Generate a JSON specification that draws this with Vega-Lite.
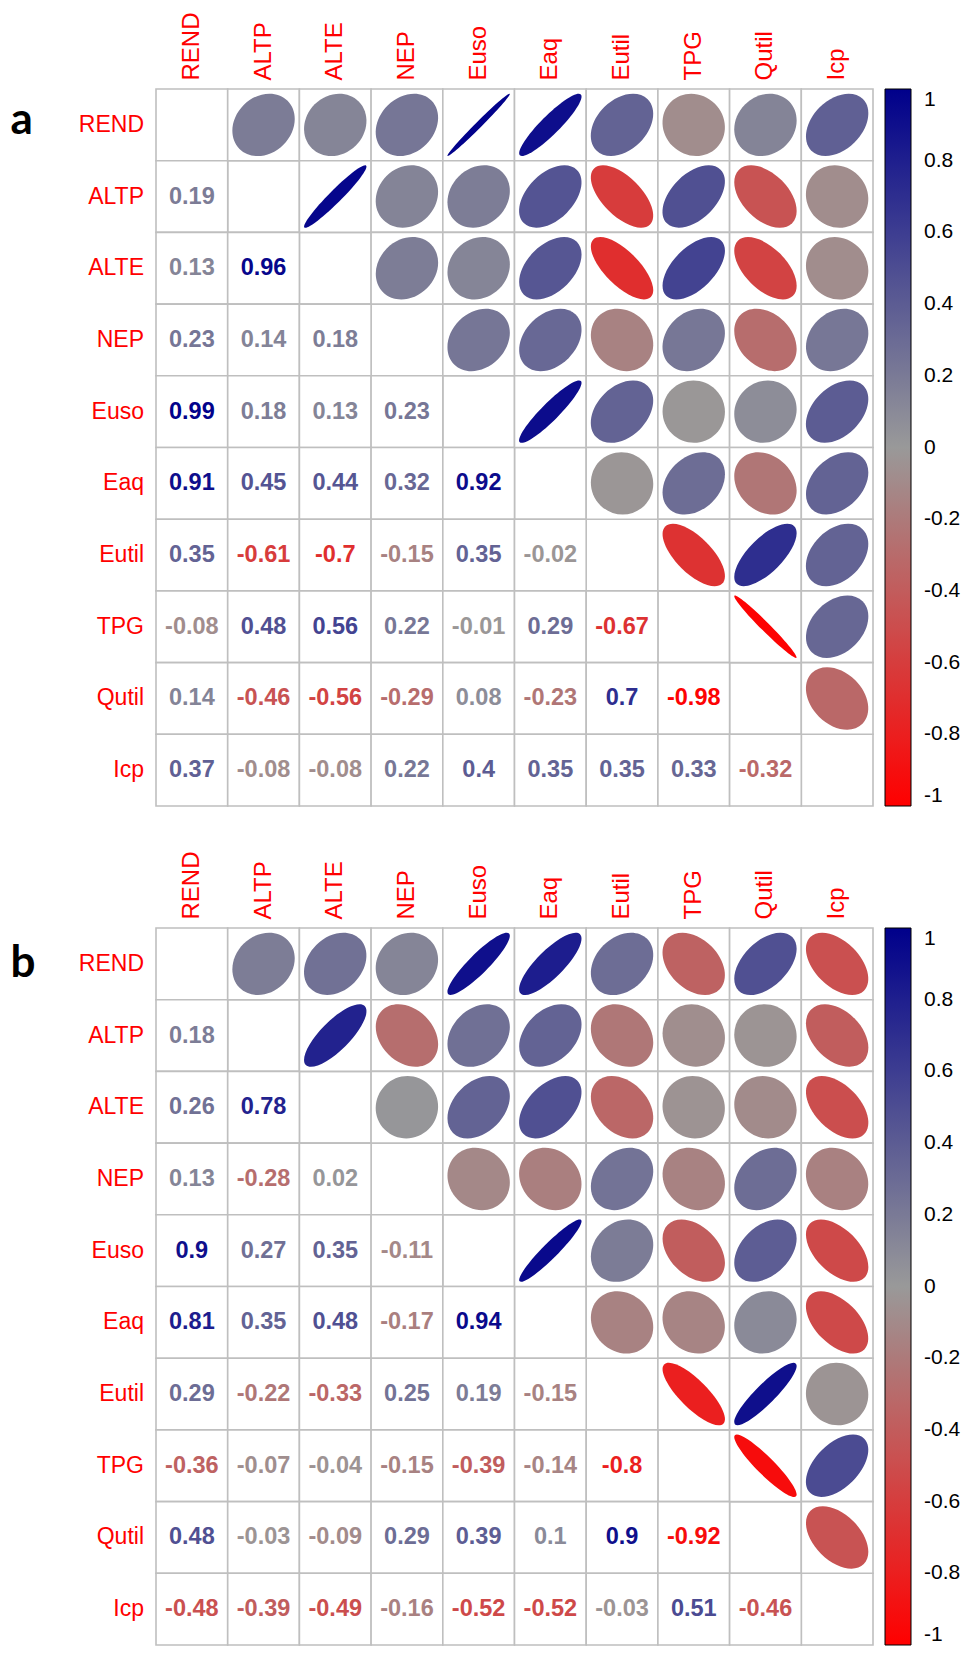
{
"$schema": "https://vega.github.io/schema/vega-lite/v6.json",
"padding": {"left": 10, "top": 11, "right": 0, "bottom": 0},
"background": "white",
"config": {
  "view": {"stroke": null},
  "font": "Liberation Sans",
  "concat": {"spacing": 43},
  "axis": {"ticks": false, "domain": false, "grid": false, "labelColor": "#FF0000", "labelFont": "Liberation Sans"},
  "legend": {"gradientLength": 717, "gradientThickness": 26, "gradientStrokeColor": "black", "gradientStrokeWidth": 1, "labelFontSize": 21, "labelFont": "Liberation Sans", "labelColor": "black", "labelOffset": 13, "labelBaseline": "middle", "offset": 12, "labelOverlap": false, "direction": "vertical", "orient": "right"}
},
"resolve": {"scale": {"color": "independent", "shape": "independent", "angle": "independent"}, "legend": {"color": "independent"}},
"vconcat": [
{
  "width": 717, "height": 717,
  "data": {"values": [
    {"row":"REND","col":"REND","p":"D"},{"row":"ALTP","col":"ALTP","p":"D"},{"row":"ALTE","col":"ALTE","p":"D"},{"row":"NEP","col":"NEP","p":"D"},{"row":"Euso","col":"Euso","p":"D"},{"row":"Eaq","col":"Eaq","p":"D"},{"row":"Eutil","col":"Eutil","p":"D"},{"row":"TPG","col":"TPG","p":"D"},{"row":"Qutil","col":"Qutil","p":"D"},{"row":"Icp","col":"Icp","p":"D"},
    {"row":"ALTP","col":"REND","r":0.19,"p":"L"},{"row":"REND","col":"ALTP","r":0.19,"p":"U"},
    {"row":"ALTE","col":"REND","r":0.13,"p":"L"},{"row":"REND","col":"ALTE","r":0.13,"p":"U"},
    {"row":"ALTE","col":"ALTP","r":0.96,"p":"L"},{"row":"ALTP","col":"ALTE","r":0.96,"p":"U"},
    {"row":"NEP","col":"REND","r":0.23,"p":"L"},{"row":"REND","col":"NEP","r":0.23,"p":"U"},
    {"row":"NEP","col":"ALTP","r":0.14,"p":"L"},{"row":"ALTP","col":"NEP","r":0.14,"p":"U"},
    {"row":"NEP","col":"ALTE","r":0.18,"p":"L"},{"row":"ALTE","col":"NEP","r":0.18,"p":"U"},
    {"row":"Euso","col":"REND","r":0.99,"p":"L"},{"row":"REND","col":"Euso","r":0.99,"p":"U"},
    {"row":"Euso","col":"ALTP","r":0.18,"p":"L"},{"row":"ALTP","col":"Euso","r":0.18,"p":"U"},
    {"row":"Euso","col":"ALTE","r":0.13,"p":"L"},{"row":"ALTE","col":"Euso","r":0.13,"p":"U"},
    {"row":"Euso","col":"NEP","r":0.23,"p":"L"},{"row":"NEP","col":"Euso","r":0.23,"p":"U"},
    {"row":"Eaq","col":"REND","r":0.91,"p":"L"},{"row":"REND","col":"Eaq","r":0.91,"p":"U"},
    {"row":"Eaq","col":"ALTP","r":0.45,"p":"L"},{"row":"ALTP","col":"Eaq","r":0.45,"p":"U"},
    {"row":"Eaq","col":"ALTE","r":0.44,"p":"L"},{"row":"ALTE","col":"Eaq","r":0.44,"p":"U"},
    {"row":"Eaq","col":"NEP","r":0.32,"p":"L"},{"row":"NEP","col":"Eaq","r":0.32,"p":"U"},
    {"row":"Eaq","col":"Euso","r":0.92,"p":"L"},{"row":"Euso","col":"Eaq","r":0.92,"p":"U"},
    {"row":"Eutil","col":"REND","r":0.35,"p":"L"},{"row":"REND","col":"Eutil","r":0.35,"p":"U"},
    {"row":"Eutil","col":"ALTP","r":-0.61,"p":"L"},{"row":"ALTP","col":"Eutil","r":-0.61,"p":"U"},
    {"row":"Eutil","col":"ALTE","r":-0.7,"p":"L"},{"row":"ALTE","col":"Eutil","r":-0.7,"p":"U"},
    {"row":"Eutil","col":"NEP","r":-0.15,"p":"L"},{"row":"NEP","col":"Eutil","r":-0.15,"p":"U"},
    {"row":"Eutil","col":"Euso","r":0.35,"p":"L"},{"row":"Euso","col":"Eutil","r":0.35,"p":"U"},
    {"row":"Eutil","col":"Eaq","r":-0.02,"p":"L"},{"row":"Eaq","col":"Eutil","r":-0.02,"p":"U"},
    {"row":"TPG","col":"REND","r":-0.08,"p":"L"},{"row":"REND","col":"TPG","r":-0.08,"p":"U"},
    {"row":"TPG","col":"ALTP","r":0.48,"p":"L"},{"row":"ALTP","col":"TPG","r":0.48,"p":"U"},
    {"row":"TPG","col":"ALTE","r":0.56,"p":"L"},{"row":"ALTE","col":"TPG","r":0.56,"p":"U"},
    {"row":"TPG","col":"NEP","r":0.22,"p":"L"},{"row":"NEP","col":"TPG","r":0.22,"p":"U"},
    {"row":"TPG","col":"Euso","r":-0.01,"p":"L"},{"row":"Euso","col":"TPG","r":-0.01,"p":"U"},
    {"row":"TPG","col":"Eaq","r":0.29,"p":"L"},{"row":"Eaq","col":"TPG","r":0.29,"p":"U"},
    {"row":"TPG","col":"Eutil","r":-0.67,"p":"L"},{"row":"Eutil","col":"TPG","r":-0.67,"p":"U"},
    {"row":"Qutil","col":"REND","r":0.14,"p":"L"},{"row":"REND","col":"Qutil","r":0.14,"p":"U"},
    {"row":"Qutil","col":"ALTP","r":-0.46,"p":"L"},{"row":"ALTP","col":"Qutil","r":-0.46,"p":"U"},
    {"row":"Qutil","col":"ALTE","r":-0.56,"p":"L"},{"row":"ALTE","col":"Qutil","r":-0.56,"p":"U"},
    {"row":"Qutil","col":"NEP","r":-0.29,"p":"L"},{"row":"NEP","col":"Qutil","r":-0.29,"p":"U"},
    {"row":"Qutil","col":"Euso","r":0.08,"p":"L"},{"row":"Euso","col":"Qutil","r":0.08,"p":"U"},
    {"row":"Qutil","col":"Eaq","r":-0.23,"p":"L"},{"row":"Eaq","col":"Qutil","r":-0.23,"p":"U"},
    {"row":"Qutil","col":"Eutil","r":0.7,"p":"L"},{"row":"Eutil","col":"Qutil","r":0.7,"p":"U"},
    {"row":"Qutil","col":"TPG","r":-0.98,"p":"L"},{"row":"TPG","col":"Qutil","r":-0.98,"p":"U"},
    {"row":"Icp","col":"REND","r":0.37,"p":"L"},{"row":"REND","col":"Icp","r":0.37,"p":"U"},
    {"row":"Icp","col":"ALTP","r":-0.08,"p":"L"},{"row":"ALTP","col":"Icp","r":-0.08,"p":"U"},
    {"row":"Icp","col":"ALTE","r":-0.08,"p":"L"},{"row":"ALTE","col":"Icp","r":-0.08,"p":"U"},
    {"row":"Icp","col":"NEP","r":0.22,"p":"L"},{"row":"NEP","col":"Icp","r":0.22,"p":"U"},
    {"row":"Icp","col":"Euso","r":0.4,"p":"L"},{"row":"Euso","col":"Icp","r":0.4,"p":"U"},
    {"row":"Icp","col":"Eaq","r":0.35,"p":"L"},{"row":"Eaq","col":"Icp","r":0.35,"p":"U"},
    {"row":"Icp","col":"Eutil","r":0.35,"p":"L"},{"row":"Eutil","col":"Icp","r":0.35,"p":"U"},
    {"row":"Icp","col":"TPG","r":0.33,"p":"L"},{"row":"TPG","col":"Icp","r":0.33,"p":"U"},
    {"row":"Icp","col":"Qutil","r":-0.32,"p":"L"},{"row":"Qutil","col":"Icp","r":-0.32,"p":"U"}
  ]},
  "encoding": {
    "x": {"field": "col", "type": "nominal", "sort": ["REND","ALTP","ALTE","NEP","Euso","Eaq","Eutil","TPG","Qutil","Icp"], "scale": {"type": "band", "paddingInner": 0, "paddingOuter": 0},
          "axis": {"orient": "top", "title": null, "labelAngle": -90, "labelAlign": "left", "labelBaseline": "middle", "labelFontSize": 24, "labelPadding": 9}},
    "y": {"field": "row", "type": "nominal", "sort": ["REND","ALTP","ALTE","NEP","Euso","Eaq","Eutil","TPG","Qutil","Icp"], "scale": {"type": "band", "paddingInner": 0, "paddingOuter": 0},
          "axis": {"title": "a", "titleAngle": 0, "titleX": -146, "titleY": 31, "titleAlign": "left", "titleBaseline": "middle", "titleFontSize": 44, "titleFont": "Lato", "titleFontWeight": "bold", "titleColor": "black", "labelFontSize": 23, "labelPadding": 12.5}}
  },
  "layer": [
    {"mark": {"type": "rect", "fill": "white", "stroke": "#BFBFBF", "strokeWidth": 1.6}},
    {"transform": [{"filter": "datum.p === 'U'"}],
     "mark": {"type": "point", "filled": true, "size": 5141, "opacity": 1, "strokeWidth": 0},
     "encoding": {
       "shape": {"field": "r", "type": "nominal", "legend": null, "scale": {
         "domain": [-0.01,-0.02,-0.08,0.08,0.13,0.14,-0.15,0.18,0.19,0.22,0.23,-0.23,0.29,-0.29,0.32,-0.32,0.33,0.35,0.37,0.4,0.44,0.45,-0.46,0.48,0.56,-0.56,-0.61,-0.67,0.7,-0.7,0.91,0.92,0.96,-0.98,0.99],
         "range": [
"M0.874 0C0.874 0.478 0.483 0.866 0 0.866C-0.483 0.866 -0.874 0.478 -0.874 0C-0.874 -0.478 -0.483 -0.866 0 -0.866C0.483 -0.866 0.874 -0.478 0.874 0Z",
"M0.879 0C0.879 0.476 0.485 0.861 0 0.861C-0.485 0.861 -0.879 0.476 -0.879 0C-0.879 -0.476 -0.485 -0.861 0 -0.861C0.485 -0.861 0.879 -0.476 0.879 0Z",
"M0.904 0C0.904 0.461 0.499 0.835 0 0.835C-0.499 0.835 -0.904 0.461 -0.904 0C-0.904 -0.461 -0.499 -0.835 0 -0.835C0.499 -0.835 0.904 -0.461 0.904 0Z",
"M0.904 0C0.904 0.461 0.499 0.835 0 0.835C-0.499 0.835 -0.904 0.461 -0.904 0C-0.904 -0.461 -0.499 -0.835 0 -0.835C0.499 -0.835 0.904 -0.461 0.904 0Z",
"M0.925 0C0.925 0.448 0.511 0.812 0 0.812C-0.511 0.812 -0.925 0.448 -0.925 0C-0.925 -0.448 -0.511 -0.812 0 -0.812C0.511 -0.812 0.925 -0.448 0.925 0Z",
"M0.929 0C0.929 0.446 0.513 0.807 0 0.807C-0.513 0.807 -0.929 0.446 -0.929 0C-0.929 -0.446 -0.513 -0.807 0 -0.807C0.513 -0.807 0.929 -0.446 0.929 0Z",
"M0.933 0C0.933 0.443 0.515 0.802 0 0.802C-0.515 0.802 -0.933 0.443 -0.933 0C-0.933 -0.443 -0.515 -0.802 0 -0.802C0.515 -0.802 0.933 -0.443 0.933 0Z",
"M0.945 0C0.945 0.435 0.522 0.788 0 0.788C-0.522 0.788 -0.945 0.435 -0.945 0C-0.945 -0.435 -0.522 -0.788 0 -0.788C0.522 -0.788 0.945 -0.435 0.945 0Z",
"M0.949 0C0.949 0.433 0.524 0.783 0 0.783C-0.524 0.783 -0.949 0.433 -0.949 0C-0.949 -0.433 -0.524 -0.783 0 -0.783C0.524 -0.783 0.949 -0.433 0.949 0Z",
"M0.961 0C0.961 0.424 0.531 0.768 0 0.768C-0.531 0.768 -0.961 0.424 -0.961 0C-0.961 -0.424 -0.531 -0.768 0 -0.768C0.531 -0.768 0.961 -0.424 0.961 0Z",
"M0.965 0C0.965 0.422 0.533 0.763 0 0.763C-0.533 0.763 -0.965 0.422 -0.965 0C-0.965 -0.422 -0.533 -0.763 0 -0.763C0.533 -0.763 0.965 -0.422 0.965 0Z",
"M0.965 0C0.965 0.422 0.533 0.763 0 0.763C-0.533 0.763 -0.965 0.422 -0.965 0C-0.965 -0.422 -0.533 -0.763 0 -0.763C0.533 -0.763 0.965 -0.422 0.965 0Z",
"M0.988 0C0.988 0.405 0.546 0.733 0 0.733C-0.546 0.733 -0.988 0.405 -0.988 0C-0.988 -0.405 -0.546 -0.733 0 -0.733C0.546 -0.733 0.988 -0.405 0.988 0Z",
"M0.988 0C0.988 0.405 0.546 0.733 0 0.733C-0.546 0.733 -0.988 0.405 -0.988 0C-0.988 -0.405 -0.546 -0.733 0 -0.733C0.546 -0.733 0.988 -0.405 0.988 0Z",
"M1 0C1 0.396 0.552 0.717 0 0.717C-0.552 0.717 -1 0.396 -1 0C-1 -0.396 -0.552 -0.717 0 -0.717C0.552 -0.717 1 -0.396 1 0Z",
"M1 0C1 0.396 0.552 0.717 0 0.717C-0.552 0.717 -1 0.396 -1 0C-1 -0.396 -0.552 -0.717 0 -0.717C0.552 -0.717 1 -0.396 1 0Z",
"M1.003 0C1.003 0.393 0.554 0.712 0 0.712C-0.554 0.712 -1.003 0.393 -1.003 0C-1.003 -0.393 -0.554 -0.712 0 -0.712C0.554 -0.712 1.003 -0.393 1.003 0Z",
"M1.011 0C1.011 0.387 0.558 0.701 0 0.701C-0.558 0.701 -1.011 0.387 -1.011 0C-1.011 -0.387 -0.558 -0.701 0 -0.701C0.558 -0.701 1.011 -0.387 1.011 0Z",
"M1.018 0C1.018 0.381 0.562 0.691 0 0.691C-0.562 0.691 -1.018 0.381 -1.018 0C-1.018 -0.381 -0.562 -0.691 0 -0.691C0.562 -0.691 1.018 -0.381 1.018 0Z",
"M1.029 0C1.029 0.372 0.569 0.674 0 0.674C-0.569 0.674 -1.029 0.372 -1.029 0C-1.029 -0.372 -0.569 -0.674 0 -0.674C0.569 -0.674 1.029 -0.372 1.029 0Z",
"M1.044 0C1.044 0.36 0.577 0.651 0 0.651C-0.577 0.651 -1.044 0.36 -1.044 0C-1.044 -0.36 -0.577 -0.651 0 -0.651C0.577 -0.651 1.044 -0.36 1.044 0Z",
"M1.048 0C1.048 0.356 0.579 0.645 0 0.645C-0.579 0.645 -1.048 0.356 -1.048 0C-1.048 -0.356 -0.579 -0.645 0 -0.645C0.579 -0.645 1.048 -0.356 1.048 0Z",
"M1.051 0C1.051 0.353 0.581 0.639 0 0.639C-0.581 0.639 -1.051 0.353 -1.051 0C-1.051 -0.353 -0.581 -0.639 0 -0.639C0.581 -0.639 1.051 -0.353 1.051 0Z",
"M1.058 0C1.058 0.347 0.585 0.627 0 0.627C-0.585 0.627 -1.058 0.347 -1.058 0C-1.058 -0.347 -0.585 -0.627 0 -0.627C0.585 -0.627 1.058 -0.347 1.058 0Z",
"M1.087 0C1.087 0.319 0.6 0.577 0 0.577C-0.6 0.577 -1.087 0.319 -1.087 0C-1.087 -0.319 -0.6 -0.577 0 -0.577C0.6 -0.577 1.087 -0.319 1.087 0Z",
"M1.087 0C1.087 0.319 0.6 0.577 0 0.577C-0.6 0.577 -1.087 0.319 -1.087 0C-1.087 -0.319 -0.6 -0.577 0 -0.577C0.6 -0.577 1.087 -0.319 1.087 0Z",
"M1.104 0C1.104 0.3 0.61 0.543 0 0.543C-0.61 0.543 -1.104 0.3 -1.104 0C-1.104 -0.3 -0.61 -0.543 0 -0.543C0.61 -0.543 1.104 -0.3 1.104 0Z",
"M1.124 0C1.124 0.276 0.621 0.5 0 0.5C-0.621 0.5 -1.124 0.276 -1.124 0C-1.124 -0.276 -0.621 -0.5 0 -0.5C0.621 -0.5 1.124 -0.276 1.124 0Z",
"M1.134 0C1.134 0.263 0.626 0.477 0 0.477C-0.626 0.477 -1.134 0.263 -1.134 0C-1.134 -0.263 -0.626 -0.477 0 -0.477C0.626 -0.477 1.134 -0.263 1.134 0Z",
"M1.134 0C1.134 0.263 0.626 0.477 0 0.477C-0.626 0.477 -1.134 0.263 -1.134 0C-1.134 -0.263 -0.626 -0.477 0 -0.477C0.626 -0.477 1.134 -0.263 1.134 0Z",
"M1.202 0C1.202 0.144 0.664 0.261 0 0.261C-0.664 0.261 -1.202 0.144 -1.202 0C-1.202 -0.144 -0.664 -0.261 0 -0.261C0.664 -0.261 1.202 -0.144 1.202 0Z",
"M1.206 0C1.206 0.136 0.666 0.246 0 0.246C-0.666 0.246 -1.206 0.136 -1.206 0C-1.206 -0.136 -0.666 -0.246 0 -0.246C0.666 -0.246 1.206 -0.136 1.206 0Z",
"M1.218 0C1.218 0.096 0.673 0.174 0 0.174C-0.673 0.174 -1.218 0.096 -1.218 0C-1.218 -0.096 -0.673 -0.174 0 -0.174C0.673 -0.174 1.218 -0.096 1.218 0Z",
"M1.224 0C1.224 0.068 0.676 0.123 0 0.123C-0.676 0.123 -1.224 0.068 -1.224 0C-1.224 -0.068 -0.676 -0.123 0 -0.123C0.676 -0.123 1.224 -0.068 1.224 0Z",
"M1.227 0C1.227 0.048 0.678 0.087 0 0.087C-0.678 0.087 -1.227 0.048 -1.227 0C-1.227 -0.048 -0.678 -0.087 0 -0.087C0.678 -0.087 1.227 -0.048 1.227 0Z"
         ]}},
       "angle": {"field": "r", "type": "quantitative", "legend": null, "scale": {"type": "threshold", "domain": [0], "range": [45, 315]}},
       "color": {"field": "r", "type": "quantitative", "scale": {"domain": [-1, 0, 1], "range": ["#FF0000", "#999999", "#00008B"], "interpolate": "rgb"},
                 "legend": {"title": null, "values": [1,0.8,0.6,0.4,0.2,0,-0.2,-0.4,-0.6,-0.8,-1], "labelExpr": "(datum.value == 1 || datum.value == 0 ? '\u00a0\u00a0' : datum.value == -1 ? '\u00a0' : '') + datum.value", "labelFontSize": 21, "labelOffset": 13, "labelFont": "Liberation Sans", "labelBaseline": "middle", "labelColor": "black"}}
     }},
    {"transform": [{"filter": "datum.p === 'L'"}],
     "mark": {"type": "text", "fontWeight": "bold", "fontSize": 23.5, "font": "Liberation Sans"},
     "encoding": {
       "text": {"field": "r", "type": "nominal"},
       "color": {"field": "r", "type": "quantitative", "scale": {"domain": [-1, 0, 1], "range": ["#FF0000", "#999999", "#00008B"], "interpolate": "rgb"},
                 "legend": {"title": null, "values": [1,0.8,0.6,0.4,0.2,0,-0.2,-0.4,-0.6,-0.8,-1], "labelExpr": "(datum.value == 1 || datum.value == 0 ? '\u00a0\u00a0' : datum.value == -1 ? '\u00a0' : '') + datum.value", "labelFontSize": 21, "labelOffset": 13, "labelFont": "Liberation Sans", "labelBaseline": "middle", "labelColor": "black"}}
     }}
  ]
},
{
  "width": 717, "height": 717,
  "data": {"values": [
    {"row":"REND","col":"REND","p":"D"},{"row":"ALTP","col":"ALTP","p":"D"},{"row":"ALTE","col":"ALTE","p":"D"},{"row":"NEP","col":"NEP","p":"D"},{"row":"Euso","col":"Euso","p":"D"},{"row":"Eaq","col":"Eaq","p":"D"},{"row":"Eutil","col":"Eutil","p":"D"},{"row":"TPG","col":"TPG","p":"D"},{"row":"Qutil","col":"Qutil","p":"D"},{"row":"Icp","col":"Icp","p":"D"},
    {"row":"ALTP","col":"REND","r":0.18,"p":"L"},{"row":"REND","col":"ALTP","r":0.18,"p":"U"},
    {"row":"ALTE","col":"REND","r":0.26,"p":"L"},{"row":"REND","col":"ALTE","r":0.26,"p":"U"},
    {"row":"ALTE","col":"ALTP","r":0.78,"p":"L"},{"row":"ALTP","col":"ALTE","r":0.78,"p":"U"},
    {"row":"NEP","col":"REND","r":0.13,"p":"L"},{"row":"REND","col":"NEP","r":0.13,"p":"U"},
    {"row":"NEP","col":"ALTP","r":-0.28,"p":"L"},{"row":"ALTP","col":"NEP","r":-0.28,"p":"U"},
    {"row":"NEP","col":"ALTE","r":0.02,"p":"L"},{"row":"ALTE","col":"NEP","r":0.02,"p":"U"},
    {"row":"Euso","col":"REND","r":0.9,"p":"L"},{"row":"REND","col":"Euso","r":0.9,"p":"U"},
    {"row":"Euso","col":"ALTP","r":0.27,"p":"L"},{"row":"ALTP","col":"Euso","r":0.27,"p":"U"},
    {"row":"Euso","col":"ALTE","r":0.35,"p":"L"},{"row":"ALTE","col":"Euso","r":0.35,"p":"U"},
    {"row":"Euso","col":"NEP","r":-0.11,"p":"L"},{"row":"NEP","col":"Euso","r":-0.11,"p":"U"},
    {"row":"Eaq","col":"REND","r":0.81,"p":"L"},{"row":"REND","col":"Eaq","r":0.81,"p":"U"},
    {"row":"Eaq","col":"ALTP","r":0.35,"p":"L"},{"row":"ALTP","col":"Eaq","r":0.35,"p":"U"},
    {"row":"Eaq","col":"ALTE","r":0.48,"p":"L"},{"row":"ALTE","col":"Eaq","r":0.48,"p":"U"},
    {"row":"Eaq","col":"NEP","r":-0.17,"p":"L"},{"row":"NEP","col":"Eaq","r":-0.17,"p":"U"},
    {"row":"Eaq","col":"Euso","r":0.94,"p":"L"},{"row":"Euso","col":"Eaq","r":0.94,"p":"U"},
    {"row":"Eutil","col":"REND","r":0.29,"p":"L"},{"row":"REND","col":"Eutil","r":0.29,"p":"U"},
    {"row":"Eutil","col":"ALTP","r":-0.22,"p":"L"},{"row":"ALTP","col":"Eutil","r":-0.22,"p":"U"},
    {"row":"Eutil","col":"ALTE","r":-0.33,"p":"L"},{"row":"ALTE","col":"Eutil","r":-0.33,"p":"U"},
    {"row":"Eutil","col":"NEP","r":0.25,"p":"L"},{"row":"NEP","col":"Eutil","r":0.25,"p":"U"},
    {"row":"Eutil","col":"Euso","r":0.19,"p":"L"},{"row":"Euso","col":"Eutil","r":0.19,"p":"U"},
    {"row":"Eutil","col":"Eaq","r":-0.15,"p":"L"},{"row":"Eaq","col":"Eutil","r":-0.15,"p":"U"},
    {"row":"TPG","col":"REND","r":-0.36,"p":"L"},{"row":"REND","col":"TPG","r":-0.36,"p":"U"},
    {"row":"TPG","col":"ALTP","r":-0.07,"p":"L"},{"row":"ALTP","col":"TPG","r":-0.07,"p":"U"},
    {"row":"TPG","col":"ALTE","r":-0.04,"p":"L"},{"row":"ALTE","col":"TPG","r":-0.04,"p":"U"},
    {"row":"TPG","col":"NEP","r":-0.15,"p":"L"},{"row":"NEP","col":"TPG","r":-0.15,"p":"U"},
    {"row":"TPG","col":"Euso","r":-0.39,"p":"L"},{"row":"Euso","col":"TPG","r":-0.39,"p":"U"},
    {"row":"TPG","col":"Eaq","r":-0.14,"p":"L"},{"row":"Eaq","col":"TPG","r":-0.14,"p":"U"},
    {"row":"TPG","col":"Eutil","r":-0.8,"p":"L"},{"row":"Eutil","col":"TPG","r":-0.8,"p":"U"},
    {"row":"Qutil","col":"REND","r":0.48,"p":"L"},{"row":"REND","col":"Qutil","r":0.48,"p":"U"},
    {"row":"Qutil","col":"ALTP","r":-0.03,"p":"L"},{"row":"ALTP","col":"Qutil","r":-0.03,"p":"U"},
    {"row":"Qutil","col":"ALTE","r":-0.09,"p":"L"},{"row":"ALTE","col":"Qutil","r":-0.09,"p":"U"},
    {"row":"Qutil","col":"NEP","r":0.29,"p":"L"},{"row":"NEP","col":"Qutil","r":0.29,"p":"U"},
    {"row":"Qutil","col":"Euso","r":0.39,"p":"L"},{"row":"Euso","col":"Qutil","r":0.39,"p":"U"},
    {"row":"Qutil","col":"Eaq","r":0.1,"p":"L"},{"row":"Eaq","col":"Qutil","r":0.1,"p":"U"},
    {"row":"Qutil","col":"Eutil","r":0.9,"p":"L"},{"row":"Eutil","col":"Qutil","r":0.9,"p":"U"},
    {"row":"Qutil","col":"TPG","r":-0.92,"p":"L"},{"row":"TPG","col":"Qutil","r":-0.92,"p":"U"},
    {"row":"Icp","col":"REND","r":-0.48,"p":"L"},{"row":"REND","col":"Icp","r":-0.48,"p":"U"},
    {"row":"Icp","col":"ALTP","r":-0.39,"p":"L"},{"row":"ALTP","col":"Icp","r":-0.39,"p":"U"},
    {"row":"Icp","col":"ALTE","r":-0.49,"p":"L"},{"row":"ALTE","col":"Icp","r":-0.49,"p":"U"},
    {"row":"Icp","col":"NEP","r":-0.16,"p":"L"},{"row":"NEP","col":"Icp","r":-0.16,"p":"U"},
    {"row":"Icp","col":"Euso","r":-0.52,"p":"L"},{"row":"Euso","col":"Icp","r":-0.52,"p":"U"},
    {"row":"Icp","col":"Eaq","r":-0.52,"p":"L"},{"row":"Eaq","col":"Icp","r":-0.52,"p":"U"},
    {"row":"Icp","col":"Eutil","r":-0.03,"p":"L"},{"row":"Eutil","col":"Icp","r":-0.03,"p":"U"},
    {"row":"Icp","col":"TPG","r":0.51,"p":"L"},{"row":"TPG","col":"Icp","r":0.51,"p":"U"},
    {"row":"Icp","col":"Qutil","r":-0.46,"p":"L"},{"row":"Qutil","col":"Icp","r":-0.46,"p":"U"}
  ]},
  "encoding": {
    "x": {"field": "col", "type": "nominal", "sort": ["REND","ALTP","ALTE","NEP","Euso","Eaq","Eutil","TPG","Qutil","Icp"], "scale": {"type": "band", "paddingInner": 0, "paddingOuter": 0},
          "axis": {"orient": "top", "title": null, "labelAngle": -90, "labelAlign": "left", "labelBaseline": "middle", "labelFontSize": 24, "labelPadding": 9}},
    "y": {"field": "row", "type": "nominal", "sort": ["REND","ALTP","ALTE","NEP","Euso","Eaq","Eutil","TPG","Qutil","Icp"], "scale": {"type": "band", "paddingInner": 0, "paddingOuter": 0},
          "axis": {"title": "b", "titleAngle": 0, "titleX": -146, "titleY": 35, "titleAlign": "left", "titleBaseline": "middle", "titleFontSize": 44, "titleFont": "Lato", "titleFontWeight": "bold", "titleColor": "black", "labelFontSize": 23, "labelPadding": 12.5}}
  },
  "layer": [
    {"mark": {"type": "rect", "fill": "white", "stroke": "#BFBFBF", "strokeWidth": 1.6}},
    {"transform": [{"filter": "datum.p === 'U'"}],
     "mark": {"type": "point", "filled": true, "size": 5141, "opacity": 1, "strokeWidth": 0},
     "encoding": {
       "shape": {"field": "r", "type": "nominal", "legend": null, "scale": {
         "domain": [0.02,-0.03,-0.04,-0.07,-0.09,0.1,-0.11,0.13,-0.14,-0.15,-0.16,-0.17,0.18,0.19,-0.22,0.25,0.26,0.27,-0.28,0.29,-0.33,0.35,-0.36,0.39,-0.39,-0.46,0.48,-0.48,-0.49,0.51,-0.52,0.78,-0.8,0.81,0.9,-0.92,0.94],
         "range": [
"M0.879 0C0.879 0.476 0.485 0.861 0 0.861C-0.485 0.861 -0.879 0.476 -0.879 0C-0.879 -0.476 -0.485 -0.861 0 -0.861C0.485 -0.861 0.879 -0.476 0.879 0Z",
"M0.883 0C0.883 0.473 0.488 0.857 0 0.857C-0.488 0.857 -0.883 0.473 -0.883 0C-0.883 -0.473 -0.488 -0.857 0 -0.857C0.488 -0.857 0.883 -0.473 0.883 0Z",
"M0.887 0C0.887 0.471 0.49 0.852 0 0.852C-0.49 0.852 -0.887 0.471 -0.887 0C-0.887 -0.471 -0.49 -0.852 0 -0.852C0.49 -0.852 0.887 -0.471 0.887 0Z",
"M0.9 0C0.9 0.463 0.497 0.839 0 0.839C-0.497 0.839 -0.9 0.463 -0.9 0C-0.9 -0.463 -0.497 -0.839 0 -0.839C0.497 -0.839 0.9 -0.463 0.9 0Z",
"M0.908 0C0.908 0.458 0.502 0.83 0 0.83C-0.502 0.83 -0.908 0.458 -0.908 0C-0.908 -0.458 -0.502 -0.83 0 -0.83C0.502 -0.83 0.908 -0.458 0.908 0Z",
"M0.913 0C0.913 0.456 0.504 0.825 0 0.825C-0.504 0.825 -0.913 0.456 -0.913 0C-0.913 -0.456 -0.504 -0.825 0 -0.825C0.504 -0.825 0.913 -0.456 0.913 0Z",
"M0.917 0C0.917 0.453 0.506 0.821 0 0.821C-0.506 0.821 -0.917 0.453 -0.917 0C-0.917 -0.453 -0.506 -0.821 0 -0.821C0.506 -0.821 0.917 -0.453 0.917 0Z",
"M0.925 0C0.925 0.448 0.511 0.812 0 0.812C-0.511 0.812 -0.925 0.448 -0.925 0C-0.925 -0.448 -0.511 -0.812 0 -0.812C0.511 -0.812 0.925 -0.448 0.925 0Z",
"M0.929 0C0.929 0.446 0.513 0.807 0 0.807C-0.513 0.807 -0.929 0.446 -0.929 0C-0.929 -0.446 -0.513 -0.807 0 -0.807C0.513 -0.807 0.929 -0.446 0.929 0Z",
"M0.933 0C0.933 0.443 0.515 0.802 0 0.802C-0.515 0.802 -0.933 0.443 -0.933 0C-0.933 -0.443 -0.515 -0.802 0 -0.802C0.515 -0.802 0.933 -0.443 0.933 0Z",
"M0.937 0C0.937 0.44 0.518 0.797 0 0.797C-0.518 0.797 -0.937 0.44 -0.937 0C-0.937 -0.44 -0.518 -0.797 0 -0.797C0.518 -0.797 0.937 -0.44 0.937 0Z",
"M0.941 0C0.941 0.438 0.52 0.793 0 0.793C-0.52 0.793 -0.941 0.438 -0.941 0C-0.941 -0.438 -0.52 -0.793 0 -0.793C0.52 -0.793 0.941 -0.438 0.941 0Z",
"M0.945 0C0.945 0.435 0.522 0.788 0 0.788C-0.522 0.788 -0.945 0.435 -0.945 0C-0.945 -0.435 -0.522 -0.788 0 -0.788C0.522 -0.788 0.945 -0.435 0.945 0Z",
"M0.949 0C0.949 0.433 0.524 0.783 0 0.783C-0.524 0.783 -0.949 0.433 -0.949 0C-0.949 -0.433 -0.524 -0.783 0 -0.783C0.524 -0.783 0.949 -0.433 0.949 0Z",
"M0.961 0C0.961 0.424 0.531 0.768 0 0.768C-0.531 0.768 -0.961 0.424 -0.961 0C-0.961 -0.424 -0.531 -0.768 0 -0.768C0.531 -0.768 0.961 -0.424 0.961 0Z",
"M0.973 0C0.973 0.416 0.537 0.753 0 0.753C-0.537 0.753 -0.973 0.416 -0.973 0C-0.973 -0.416 -0.537 -0.753 0 -0.753C0.537 -0.753 0.973 -0.416 0.973 0Z",
"M0.977 0C0.977 0.413 0.539 0.748 0 0.748C-0.539 0.748 -0.977 0.413 -0.977 0C-0.977 -0.413 -0.539 -0.748 0 -0.748C0.539 -0.748 0.977 -0.413 0.977 0Z",
"M0.98 0C0.98 0.411 0.542 0.743 0 0.743C-0.542 0.743 -0.98 0.411 -0.98 0C-0.98 -0.411 -0.542 -0.743 0 -0.743C0.542 -0.743 0.98 -0.411 0.98 0Z",
"M0.984 0C0.984 0.408 0.544 0.738 0 0.738C-0.544 0.738 -0.984 0.408 -0.984 0C-0.984 -0.408 -0.544 -0.738 0 -0.738C0.544 -0.738 0.984 -0.408 0.984 0Z",
"M0.988 0C0.988 0.405 0.546 0.733 0 0.733C-0.546 0.733 -0.988 0.405 -0.988 0C-0.988 -0.405 -0.546 -0.733 0 -0.733C0.546 -0.733 0.988 -0.405 0.988 0Z",
"M1.003 0C1.003 0.393 0.554 0.712 0 0.712C-0.554 0.712 -1.003 0.393 -1.003 0C-1.003 -0.393 -0.554 -0.712 0 -0.712C0.554 -0.712 1.003 -0.393 1.003 0Z",
"M1.011 0C1.011 0.387 0.558 0.701 0 0.701C-0.558 0.701 -1.011 0.387 -1.011 0C-1.011 -0.387 -0.558 -0.701 0 -0.701C0.558 -0.701 1.011 -0.387 1.011 0Z",
"M1.015 0C1.015 0.384 0.56 0.696 0 0.696C-0.56 0.696 -1.015 0.384 -1.015 0C-1.015 -0.384 -0.56 -0.696 0 -0.696C0.56 -0.696 1.015 -0.384 1.015 0Z",
"M1.026 0C1.026 0.375 0.567 0.679 0 0.679C-0.567 0.679 -1.026 0.375 -1.026 0C-1.026 -0.375 -0.567 -0.679 0 -0.679C0.567 -0.679 1.026 -0.375 1.026 0Z",
"M1.026 0C1.026 0.375 0.567 0.679 0 0.679C-0.567 0.679 -1.026 0.375 -1.026 0C-1.026 -0.375 -0.567 -0.679 0 -0.679C0.567 -0.679 1.026 -0.375 1.026 0Z",
"M1.051 0C1.051 0.353 0.581 0.639 0 0.639C-0.581 0.639 -1.051 0.353 -1.051 0C-1.051 -0.353 -0.581 -0.639 0 -0.639C0.581 -0.639 1.051 -0.353 1.051 0Z",
"M1.058 0C1.058 0.347 0.585 0.627 0 0.627C-0.585 0.627 -1.058 0.347 -1.058 0C-1.058 -0.347 -0.585 -0.627 0 -0.627C0.585 -0.627 1.058 -0.347 1.058 0Z",
"M1.058 0C1.058 0.347 0.585 0.627 0 0.627C-0.585 0.627 -1.058 0.347 -1.058 0C-1.058 -0.347 -0.585 -0.627 0 -0.627C0.585 -0.627 1.058 -0.347 1.058 0Z",
"M1.062 0C1.062 0.343 0.587 0.621 0 0.621C-0.587 0.621 -1.062 0.343 -1.062 0C-1.062 -0.343 -0.587 -0.621 0 -0.621C0.587 -0.621 1.062 -0.343 1.062 0Z",
"M1.069 0C1.069 0.336 0.59 0.609 0 0.609C-0.59 0.609 -1.069 0.336 -1.069 0C-1.069 -0.336 -0.59 -0.609 0 -0.609C0.59 -0.609 1.069 -0.336 1.069 0Z",
"M1.073 0C1.073 0.333 0.592 0.603 0 0.603C-0.592 0.603 -1.073 0.333 -1.073 0C-1.073 -0.333 -0.592 -0.603 0 -0.603C0.592 -0.603 1.073 -0.333 1.073 0Z",
"M1.161 0C1.161 0.225 0.641 0.408 0 0.408C-0.641 0.408 -1.161 0.225 -1.161 0C-1.161 -0.225 -0.641 -0.408 0 -0.408C0.641 -0.408 1.161 -0.225 1.161 0Z",
"M1.167 0C1.167 0.215 0.645 0.389 0 0.389C-0.645 0.389 -1.167 0.215 -1.167 0C-1.167 -0.215 -0.645 -0.389 0 -0.389C0.645 -0.389 1.167 -0.215 1.167 0Z",
"M1.17 0C1.17 0.209 0.646 0.379 0 0.379C-0.646 0.379 -1.17 0.209 -1.17 0C-1.17 -0.209 -0.646 -0.379 0 -0.379C0.646 -0.379 1.17 -0.209 1.17 0Z",
"M1.199 0C1.199 0.152 0.662 0.275 0 0.275C-0.662 0.275 -1.199 0.152 -1.199 0C-1.199 -0.152 -0.662 -0.275 0 -0.275C0.662 -0.275 1.199 -0.152 1.199 0Z",
"M1.206 0C1.206 0.136 0.666 0.246 0 0.246C-0.666 0.246 -1.206 0.136 -1.206 0C-1.206 -0.136 -0.666 -0.246 0 -0.246C0.666 -0.246 1.206 -0.136 1.206 0Z",
"M1.212 0C1.212 0.118 0.669 0.213 0 0.213C-0.669 0.213 -1.212 0.118 -1.212 0C-1.212 -0.118 -0.669 -0.213 0 -0.213C0.669 -0.213 1.212 -0.118 1.212 0Z"
         ]}},
       "angle": {"field": "r", "type": "quantitative", "legend": null, "scale": {"type": "threshold", "domain": [0], "range": [45, 315]}},
       "color": {"field": "r", "type": "quantitative", "scale": {"domain": [-1, 0, 1], "range": ["#FF0000", "#999999", "#00008B"], "interpolate": "rgb"},
                 "legend": {"title": null, "values": [1,0.8,0.6,0.4,0.2,0,-0.2,-0.4,-0.6,-0.8,-1], "labelExpr": "(datum.value == 1 || datum.value == 0 ? '\u00a0\u00a0' : datum.value == -1 ? '\u00a0' : '') + datum.value", "labelFontSize": 21, "labelOffset": 13, "labelFont": "Liberation Sans", "labelBaseline": "middle", "labelColor": "black"}}
     }},
    {"transform": [{"filter": "datum.p === 'L'"}],
     "mark": {"type": "text", "fontWeight": "bold", "fontSize": 23.5, "font": "Liberation Sans"},
     "encoding": {
       "text": {"field": "r", "type": "nominal"},
       "color": {"field": "r", "type": "quantitative", "scale": {"domain": [-1, 0, 1], "range": ["#FF0000", "#999999", "#00008B"], "interpolate": "rgb"},
                 "legend": {"title": null, "values": [1,0.8,0.6,0.4,0.2,0,-0.2,-0.4,-0.6,-0.8,-1], "labelExpr": "(datum.value == 1 || datum.value == 0 ? '\u00a0\u00a0' : datum.value == -1 ? '\u00a0' : '') + datum.value", "labelFontSize": 21, "labelOffset": 13, "labelFont": "Liberation Sans", "labelBaseline": "middle", "labelColor": "black"}}
     }}
  ]
}
]
}
